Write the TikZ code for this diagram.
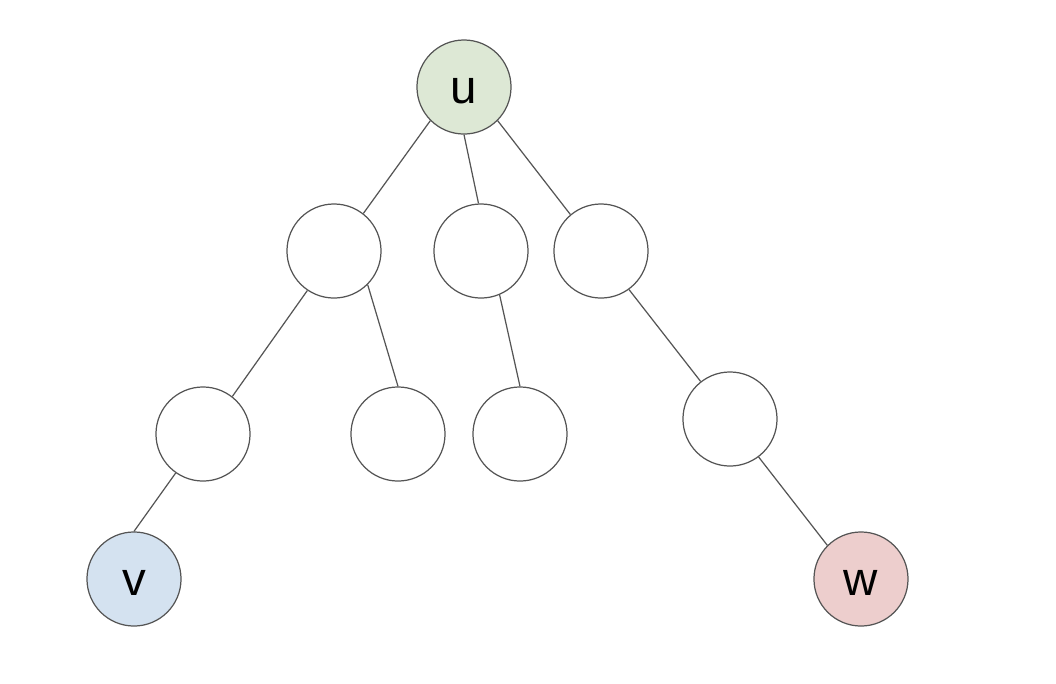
\documentclass[tikz,border=0pt]{standalone}
\usepackage{fontspec}
\setmainfont{Liberation Sans}
\definecolor{rootgreen}{HTML}{DDE8D5}
\definecolor{leafblue}{HTML}{D4E2F0}
\definecolor{leafred}{HTML}{EDCECD}
\definecolor{linegray}{HTML}{555555}

\begin{document}
\begin{tikzpicture}[
  x=0.01cm, y=-0.01cm,
  font=\fontsize{13.5}{16}\selectfont,
  vertex/.style={
    circle,
    draw=linegray,
    fill=white,
    line width=0.35pt,
    minimum size=0.94cm,
    inner sep=0pt,
    text height=0.33cm,
    text depth=0pt
  },
  edge/.style={draw=linegray, line width=0.35pt}
]
\useasboundingbox (0,0) rectangle (1056,684);

\node[vertex, fill=rootgreen] (u) at (464,87) {u};

\node[vertex] (a) at (334,251) {};
\node[vertex] (b) at (481,251) {};
\node[vertex] (c) at (601,251) {};

\node[vertex] (a1) at (203,434) {};
\node[vertex] (a2) at (398,434) {};
\node[vertex] (b1) at (520,434) {};
\node[vertex] (c1) at (730,419) {};

\node[vertex, fill=leafblue] (v) at (134,579) {v};
\node[vertex, fill=leafred] (w) at (861,579) {w};

\draw[edge] (u.225) -- (a.52);
\draw[edge] (u.south) -- (b.93);
\draw[edge] (u.-45) -- (c.130);
\draw[edge] (a.236) -- (a1.52);
\draw[edge] (a.-45) -- (a2.north);
\draw[edge] (b.-67) -- (b1.north);
\draw[edge] (c.-54) -- (c1.128);
\draw[edge] (a1.235) -- (v.north);
\draw[edge] (c1.-53) -- (w.135);

\end{tikzpicture}
\end{document}
